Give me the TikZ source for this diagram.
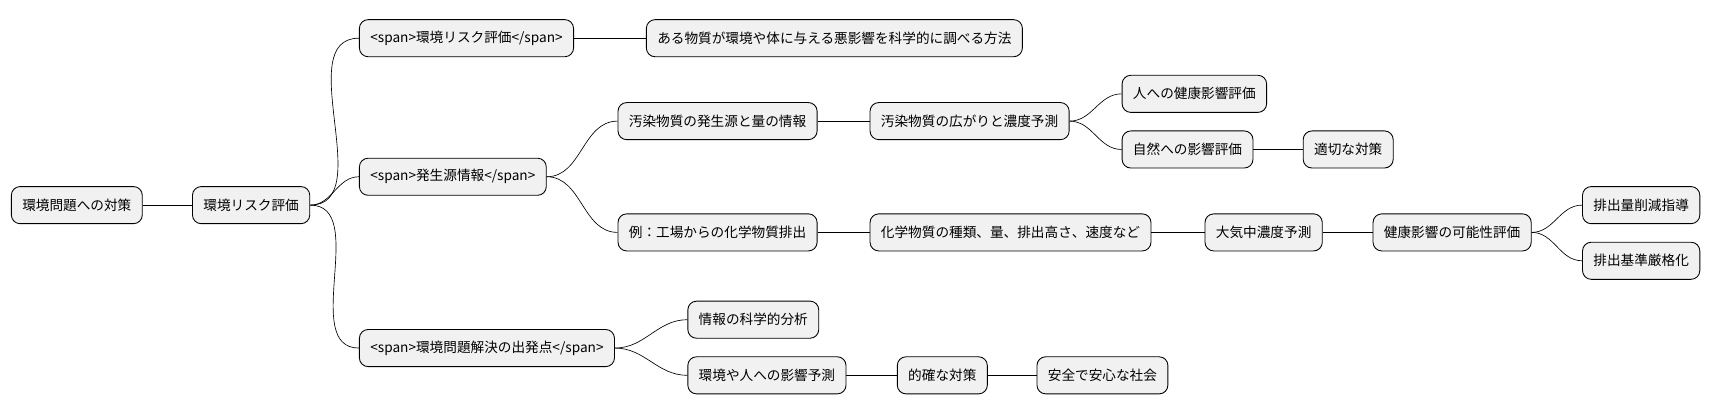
\documentclass[tikz,border=0pt]{standalone}
\usepackage{fontspec}
\setmainfont{Noto Sans CJK JP}
\usetikzlibrary{positioning}
\definecolor{boxfill}{HTML}{F1F1F1}
\tikzset{
  box/.style={draw=black, fill=boxfill, rounded corners=8pt, line width=0.8pt,
    minimum height=34pt, inner xsep=10pt, anchor=west,
    font=\fontsize{12.5}{15}\selectfont},
  link/.style={line width=0.6pt}
}
\begin{document}
\begin{tikzpicture}[x=1pt, y=-1pt]
    \useasboundingbox (0,0) rectangle (1570,380);
    % root and first level
    \node[box] (root) at (10,188) {環境問題への対策};
    \node[box] (risk) at (176,188) {環境リスク評価};
    % first branch
    \node[box] (spanrisk) at (329,35) {<span>環境リスク評価</span>};
    \node[box] (method) at (592,35) {ある物質が環境や体に与える悪影響を科学的に調べる方法};
    % second branch
    \node[box] (source) at (329,162) {<span>発生源情報</span>};
    \node[box] (pollinfo) at (566,111) {汚染物質の発生源と量の情報};
    \node[box] (spread) at (797,111) {汚染物質の広がりと濃度予測};
    \node[box] (human) at (1028,86) {人への健康影響評価};
    \node[box] (nature) at (1028,137) {自然への影響評価};
    \node[box] (measure) at (1194,137) {適切な対策};
    \node[box] (factory) at (566,213) {例：工場からの化学物質排出};
    \node[box] (kinds) at (797,213) {化学物質の種類、量、排出高さ、速度など};
    \node[box] (air) at (1104,213) {大気中濃度予測};
    \node[box] (health) at (1258,213) {健康影響の可能性評価};
    \node[box] (guide) at (1450,188) {排出量削減指導};
    \node[box] (strict) at (1450,239) {排出基準厳格化};
    % third branch
    \node[box] (start) at (329,319) {<span>環境問題解決の出発点</span>};
    \node[box] (analysis) at (630,293) {情報の科学的分析};
    \node[box] (predict) at (630,344) {環境や人への影響予測};
    \node[box] (proper) at (822,344) {的確な対策};
    \node[box] (society) at (950,344) {安全で安心な社会};
    % connectors
    \foreach \a/\b in {root/risk, risk/spanrisk, spanrisk/method, risk/source,
      source/pollinfo, pollinfo/spread, spread/human, spread/nature,
      nature/measure, source/factory, factory/kinds, kinds/air, air/health,
      health/guide, health/strict, risk/start, start/analysis, start/predict,
      predict/proper, proper/society}
      \draw[link] (\a.east) to[out=0, in=180] (\b.west);
\end{tikzpicture}
\end{document}
